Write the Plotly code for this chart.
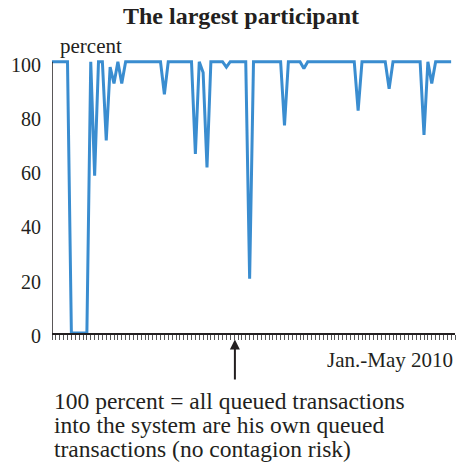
import plotly.graph_objects as go

# Share (%) of queued transactions belonging to the largest participant, daily Jan.-May 2010
share = [100, 100, 100, 100, 100, 0, 0, 0, 0, 0,
         100, 58, 100, 100, 71, 98, 92, 100, 92, 100,
         100, 100, 100, 100, 100, 100, 100, 100, 100, 88,
         100, 100, 100, 100, 100, 100, 100, 66, 100, 96,
         61, 100, 100, 100, 100, 98, 100, 100, 100, 100,
         100, 20, 100, 100, 100, 100, 100, 100, 100, 100,
         76.5, 100, 100, 100, 100, 97.5, 100, 100, 100, 100,
         100, 100, 100, 100, 100, 100, 100, 100, 100, 82,
         100, 100, 100, 100, 100, 100, 100, 90, 100, 100,
         100, 100, 100, 100, 100, 100, 73, 100, 92, 100,
         100, 100, 100, 100]
days = list(range(len(share)))
y_ticks = [0, 20, 40, 60, 80, 100]
arrow_day = 47.2

FONT = "Liberation Serif, Times New Roman, serif"
TXT = "#231f20"

fig = go.Figure()
fig.add_trace(go.Scatter(x=days, y=share, mode="lines",
                         line=dict(color="#3a8dd0", width=3),
                         hoverinfo="skip", showlegend=False))

fig.update_layout(
    width=460, height=462,
    margin=dict(l=52, r=5, t=59, b=129),
    paper_bgcolor="white", plot_bgcolor="white",
    font=dict(family=FONT, color=TXT),
    xaxis=dict(range=[0, 104], tickmode="linear", tick0=0, dtick=1,
               ticks="outside", ticklen=5, tickwidth=1, tickcolor="#555",
               showticklabels=False, showgrid=False, zeroline=False,
               showline=True, linecolor=TXT, linewidth=1.5),
    yaxis=dict(range=[0, 101], tickvals=y_ticks, ticks="",
               tickfont=dict(size=20, family=FONT, color=TXT),
               ticklabelstandoff=10, ticklabelshift=3,
               showgrid=False, zeroline=False, showline=False),
)

fig.add_shape(type="line", xref="x", yref="y", x0=0, x1=0, y0=0, y1=100,
              line=dict(color=TXT, width=1.5))

def pyp(p):
    return (333 - p) / 273.7

fig.add_annotation(text="<b>The largest participant</b>", xref="paper", yref="paper",
                   x=(240.5 - 52) / 403, y=pyp(16), xanchor="center", yanchor="middle",
                   showarrow=False, font=dict(size=24, family=FONT, color=TXT))
fig.add_annotation(text="percent", xref="paper", yref="paper",
                   x=(58 - 52) / 403, y=pyp(46), xanchor="left", yanchor="middle",
                   showarrow=False, font=dict(size=21, family=FONT, color=TXT))
fig.add_annotation(text="Jan.-May 2010", xref="paper", yref="paper",
                   x=1, y=pyp(360), xanchor="right", yanchor="middle",
                   showarrow=False, font=dict(size=21, family=FONT, color=TXT))

lines = ["100 percent = all queued transactions",
         "into the system are his own queued",
         "transactions (no contagion risk)"]
for k, t in enumerate(lines):
    fig.add_annotation(text=t, xref="paper", yref="paper",
                       x=0, y=pyp(401 + 24 * k), xanchor="left", yanchor="middle",
                       showarrow=False, font=dict(size=23.5, family=FONT, color=TXT))

fig.add_annotation(text=" ", x=arrow_day, y=pyp(339.5), xref="x", yref="paper",
                   ax=0, ay=42, showarrow=True, arrowhead=2, arrowsize=1,
                   arrowwidth=2, arrowcolor=TXT, standoff=0, startstandoff=0,
                   font=dict(size=1))

fig.write_html("out.html", config={"displayModeBar": False},
               post_script="document.body.style.margin='0';document.body.style.overflow='hidden';")
